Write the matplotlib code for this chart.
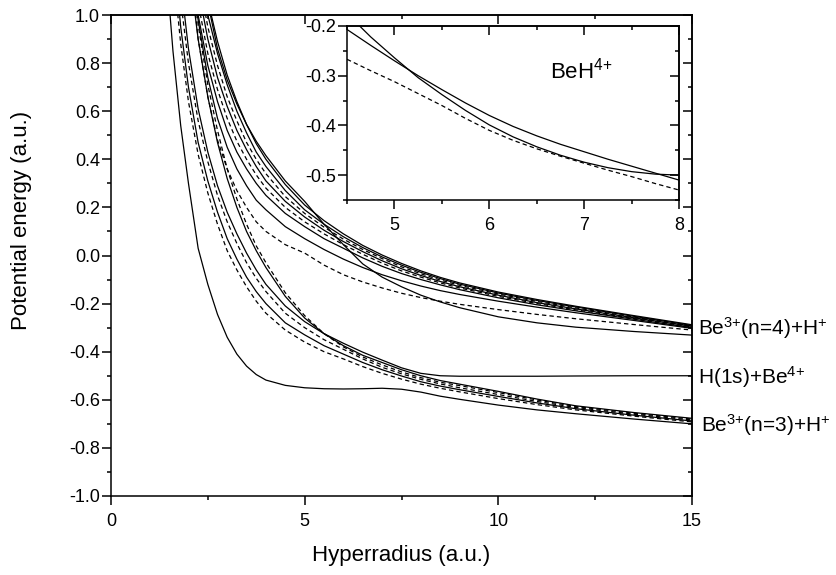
import numpy as np
import matplotlib
matplotlib.use('Agg')
import matplotlib.pyplot as plt
from matplotlib.ticker import MultipleLocator, FormatStrFormatter

plt.rcParams['font.family'] = ['Liberation Sans', 'DejaVu Sans']
plt.rcParams['mathtext.fontset'] = 'custom'
plt.rcParams['mathtext.rm'] = 'Liberation Sans'
plt.rcParams['axes.unicode_minus'] = False

# hyperradius grid (a.u.) shared by all potential curves
r = [1.4, 1.6, 1.8, 2.0, 2.25, 2.5, 2.75, 3.0, 3.25, 3.5, 3.75, 4.0, 4.5, 5.0, 5.5,
     6.0, 6.5, 7.0, 7.5, 8.0, 8.5, 9.0, 10.0, 11.0, 12.0, 13.5, 15.0]

# lowest curve: H(1s)+Be4+ plateau, then into the n=3 manifold
e_h = [1.25, 0.85, 0.54, 0.30, 0.03, -0.12, -0.245, -0.34, -0.41, -0.46, -0.495, -0.518, -0.540, -0.550, -0.554,
       -0.555, -0.554, -0.552, -0.556, -0.568, -0.585, -0.598, -0.622, -0.642, -0.658, -0.68, -0.70]

# Be3+(n=3)+H+ manifold
e3a = [1.6, 1.2, 0.88, 0.64, 0.42, 0.26, 0.13, 0.02, -0.06, -0.13, -0.19, -0.24, -0.31, -0.36, -0.40,
       -0.43, -0.462, -0.49, -0.514, -0.535, -0.552, -0.567, -0.595, -0.62, -0.642, -0.668, -0.692]
e3b = [1.7, 1.3, 0.95, 0.70, 0.47, 0.31, 0.18, 0.07, -0.015, -0.09, -0.15, -0.20, -0.28, -0.33, -0.375,
       -0.41, -0.445, -0.475, -0.501, -0.525, -0.543, -0.558, -0.586, -0.613, -0.637, -0.664, -0.688]
e3c = [1.9, 1.42, 1.06, 0.80, 0.56, 0.39, 0.25, 0.14, 0.05, -0.03, -0.095, -0.15, -0.24, -0.30, -0.35,
       -0.39, -0.43, -0.465, -0.492, -0.515, -0.534, -0.55, -0.578, -0.607, -0.632, -0.66, -0.684]
e3d = [2.0, 1.5, 1.14, 0.86, 0.61, 0.43, 0.29, 0.18, 0.09, 0.01, -0.06, -0.12, -0.21, -0.275, -0.325,
       -0.365, -0.402, -0.435, -0.467, -0.49, -0.50, -0.502, -0.502, -0.502, -0.501, -0.50, -0.50]
e3e = [2.6, 2.0, 1.55, 1.22, 0.90, 0.66, 0.47, 0.32, 0.20, 0.10, 0.02, -0.05, -0.17, -0.26, -0.325,
       -0.375, -0.415, -0.445, -0.475, -0.50, -0.52, -0.535, -0.565, -0.597, -0.625, -0.653, -0.677]
e3f = [2.8, 2.2, 1.7, 1.30, 0.96, 0.71, 0.52, 0.36, 0.235, 0.13, 0.04, -0.03, -0.155, -0.25, -0.325,
       -0.38, -0.422, -0.455, -0.484, -0.508, -0.527, -0.541, -0.57, -0.601, -0.628, -0.656, -0.680]

# Be3+(n=4)+H+ manifold
e4h = [2.6, 2.1, 1.6, 1.28, 0.90, 0.66, 0.48, 0.36, 0.27, 0.20, 0.14, 0.10, 0.045, 0.01, -0.04,
       -0.08, -0.11, -0.135, -0.157, -0.175, -0.19, -0.203, -0.225, -0.245, -0.263, -0.287, -0.31]
e4g = [2.7, 2.2, 1.7, 1.32, 0.98, 0.74, 0.57, 0.45, 0.36, 0.29, 0.23, 0.19, 0.12, 0.07, 0.025,
       -0.015, -0.05, -0.08, -0.105, -0.127, -0.146, -0.162, -0.19, -0.215, -0.238, -0.27, -0.303]
e4_1 = [2.9, 2.3, 1.75, 1.30, 1.0, 0.79, 0.64, 0.52, 0.43, 0.36, 0.30, 0.25, 0.175, 0.12, 0.07,
        0.03, -0.01, -0.045, -0.075, -0.10, -0.122, -0.142, -0.176, -0.205, -0.23, -0.265, -0.300]
e4_2 = [3.0, 2.4, 1.82, 1.36, 1.05, 0.84, 0.69, 0.57, 0.475, 0.40, 0.335, 0.28, 0.20, 0.14, 0.09,
        0.045, 0.005, -0.032, -0.064, -0.09, -0.114, -0.135, -0.17, -0.20, -0.226, -0.262, -0.297]
e4_3 = [3.1, 2.5, 1.9, 1.44, 1.11, 0.90, 0.74, 0.62, 0.52, 0.44, 0.37, 0.31, 0.225, 0.16, 0.105,
        0.058, 0.016, -0.022, -0.055, -0.083, -0.108, -0.13, -0.165, -0.196, -0.222, -0.259, -0.295]
e4_4 = [3.2, 2.6, 2.0, 1.52, 1.17, 0.95, 0.79, 0.66, 0.56, 0.47, 0.40, 0.34, 0.245, 0.175, 0.118,
        0.068, 0.025, -0.013, -0.047, -0.076, -0.102, -0.124, -0.16, -0.191, -0.218, -0.256, -0.293]
e4_5 = [3.3, 2.7, 2.1, 1.62, 1.24, 1.0, 0.84, 0.71, 0.60, 0.51, 0.43, 0.37, 0.27, 0.19, 0.13,
        0.078, 0.033, -0.006, -0.04, -0.07, -0.096, -0.119, -0.156, -0.187, -0.214, -0.253, -0.291]
e4_6 = [3.4, 2.8, 2.2, 1.75, 1.32, 1.06, 0.89, 0.75, 0.64, 0.545, 0.465, 0.40, 0.295, 0.21, 0.145,
        0.09, 0.042, 0.002, -0.033, -0.064, -0.091, -0.114, -0.152, -0.183, -0.211, -0.25, -0.288]
e4i = [3.8, 3.0, 2.4, 1.9, 1.4, 1.05, 0.86, 0.73, 0.63, 0.545, 0.475, 0.415, 0.31, 0.225, 0.13,
       0.045, -0.035, -0.09, -0.13, -0.165, -0.193, -0.217, -0.255, -0.28, -0.298, -0.316, -0.331]

solid_curves = [e_h, e3b, e3d, e3e, e4g, e4_1, e4_3, e4_5, e4_6, e4i]
dashed_curves = [e3a, e3c, e3f, e4h, e4_2, e4_4]

# inset: BeH4+ curves
ri = [4.5, 4.75, 5.0, 5.25, 5.5, 5.75, 6.0, 6.25, 6.5, 6.75, 7.0, 7.25, 7.5, 7.75, 8.0]
ei_1 = [-0.175, -0.222, -0.264, -0.304, -0.338, -0.370, -0.399, -0.423, -0.443, -0.460, -0.474, -0.485, -0.493, -0.498, -0.50]
ei_2 = [-0.207, -0.239, -0.270, -0.300, -0.328, -0.355, -0.380, -0.402, -0.421, -0.438, -0.453, -0.468, -0.482, -0.496, -0.51]
ei_3 = [-0.267, -0.290, -0.312, -0.336, -0.360, -0.386, -0.410, -0.430, -0.447, -0.462, -0.476, -0.490, -0.503, -0.517, -0.53]

dash = (0, (3.5, 2.5))
lw = 0.9


def style_axes(a, xmaj, xmin, ymaj, ymin, fs):
    # outward ticks with labels on left/bottom, inward mirror ticks on top/right
    a.xaxis.set_major_locator(MultipleLocator(xmaj))
    a.xaxis.set_minor_locator(MultipleLocator(xmin))
    a.yaxis.set_major_locator(MultipleLocator(ymaj))
    a.yaxis.set_minor_locator(MultipleLocator(ymin))
    a.yaxis.set_major_formatter(FormatStrFormatter('%.1f'))
    a.tick_params(which='both', direction='out', width=1.1, labelsize=fs)
    a.tick_params(which='major', length=6.5)
    a.tick_params(which='minor', length=3.2)
    a.tick_params(axis='y', pad=1.5)
    a.tick_params(axis='x', pad=6)
    for s in a.spines.values():
        s.set_linewidth(1.1)
    top = a.secondary_xaxis('top')
    top.xaxis.set_major_locator(MultipleLocator(xmaj))
    top.xaxis.set_minor_locator(MultipleLocator(xmin))
    top.tick_params(which='both', direction='in', width=1.1, labeltop=False)
    top.tick_params(which='major', length=6.5)
    top.tick_params(which='minor', length=3.2)
    top.spines['top'].set_linewidth(1.1)
    right = a.secondary_yaxis('right')
    right.yaxis.set_major_locator(MultipleLocator(ymaj))
    right.yaxis.set_minor_locator(MultipleLocator(ymin))
    right.tick_params(which='both', direction='in', width=1.1, labelright=False)
    right.tick_params(which='major', length=6.5)
    right.tick_params(which='minor', length=3.2)
    right.spines['right'].set_linewidth(1.1)


fig = plt.figure(figsize=(8.37, 5.75), dpi=100)
ax = fig.add_axes([0.1326, 0.1374, 0.6942, 0.8365])

for e in solid_curves:
    ax.plot(r, e, color='black', lw=lw)
for e in dashed_curves:
    ax.plot(r, e, color='black', lw=lw, linestyle=dash)

ax.set_xlim(0, 15)
ax.set_ylim(-1.0, 1.0)
style_axes(ax, 5, 2.5, 0.2, 0.1, 13)

ax.set_xlabel('Hyperradius (a.u.)', fontsize=16)
ax.set_ylabel('Potential energy (a.u.)', fontsize=16)
ax.xaxis.set_label_coords(0.5, -0.102)
ax.yaxis.set_label_coords(-0.136, 0.573)

# asymptotic channel labels
ax.text(15.15, -0.328, r'Be$\mathregular{^{3{+}}}$(n=4)+H$\mathregular{^{{+}}}$', fontsize=15,
        ha='left', va='baseline', clip_on=False)
ax.text(15.15, -0.534, r'H(1s)+Be$\mathregular{^{4{+}}}$', fontsize=15,
        ha='left', va='baseline', clip_on=False)
ax.text(15.23, -0.733, r'Be$\mathregular{^{3{+}}}$(n=3)+H$\mathregular{^{{+}}}$', fontsize=15,
        ha='left', va='baseline', clip_on=False)

# inset
axin = fig.add_axes([0.4146, 0.6522, 0.3967, 0.3026])
axin.plot(ri, ei_1, color='black', lw=lw)
axin.plot(ri, ei_2, color='black', lw=lw)
axin.plot(ri, ei_3, color='black', lw=lw, linestyle=dash)
axin.set_xlim(4.5, 8)
axin.set_ylim(-0.55, -0.2)
style_axes(axin, 1, 0.5, 0.1, 0.05, 13)
axin.xaxis.set_major_formatter(FormatStrFormatter('%d'))
axin.text(6.64, -0.305, r'BeH$\mathregular{^{4{+}}}$', fontsize=16, ha='left', va='baseline')

fig.savefig('out.png', dpi=100)
